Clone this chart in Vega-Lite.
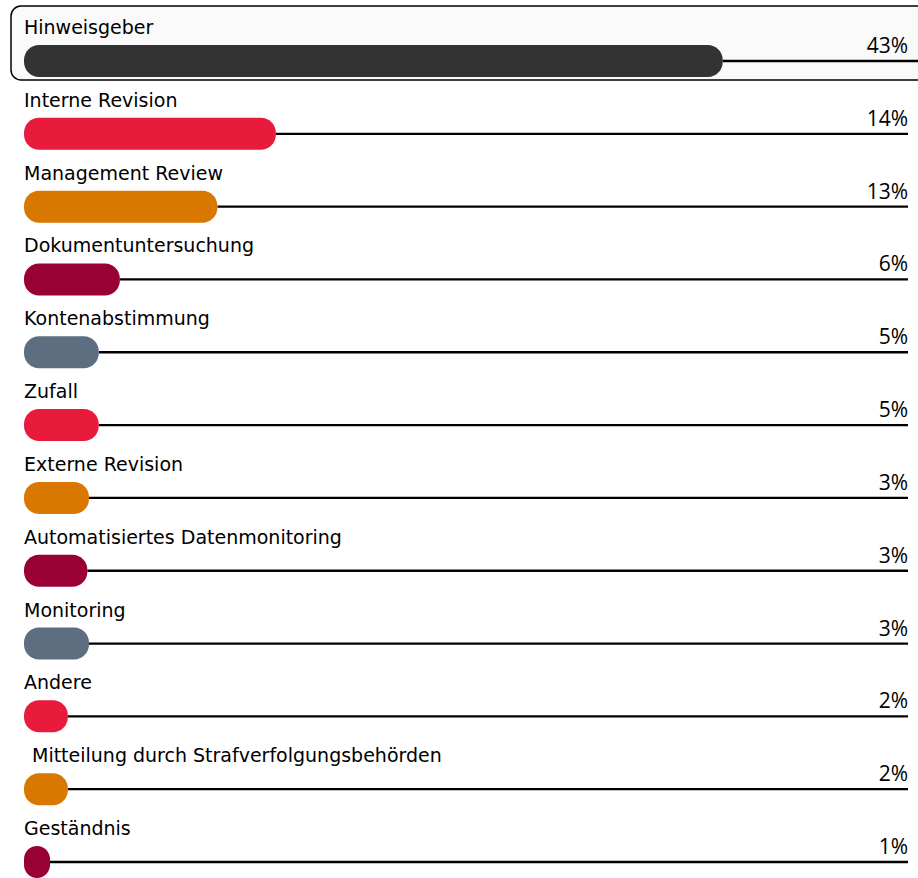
{
  "$schema": "https://vega.github.io/schema/vega-lite/v6.json",
  "width": 918,
  "height": 878,
  "autosize": {"type": "none"},
  "padding": 0,
  "background": "white",
  "config": {"view": {"stroke": null}},
  "data": {
    "values": [
      {"cat": "Hinweisgeber", "share": 43.0, "label": "43%", "highlight": true},
      {"cat": "Interne Revision", "share": 15.5, "label": "14%", "highlight": false},
      {"cat": "Management Review", "share": 11.9, "label": "13%", "highlight": false},
      {"cat": "Dokumentuntersuchung", "share": 5.9, "label": "6%", "highlight": false},
      {"cat": "Kontenabstimmung", "share": 4.6, "label": "5%", "highlight": false},
      {"cat": "Zufall", "share": 4.6, "label": "5%", "highlight": false},
      {"cat": "Externe Revision", "share": 4.0, "label": "3%", "highlight": false},
      {"cat": "Automatisiertes Datenmonitoring", "share": 3.9, "label": "3%", "highlight": false},
      {"cat": "Monitoring", "share": 4.0, "label": "3%", "highlight": false},
      {"cat": "Andere", "share": 2.7, "label": "2%", "highlight": false},
      {"cat": " Mitteilung durch Strafverfolgungsbehörden", "share": 2.7, "label": "2%", "highlight": false},
      {"cat": "Geständnis", "share": 1.6, "label": "1%", "highlight": false}
    ]
  },
  "resolve": {"scale": {"y": "independent"}},
  "layer": [
    {
      "transform": [{"filter": "datum.highlight"}],
      "mark": {"type": "rect", "cornerRadius": 10, "fill": "#fafafa", "stroke": "#000000", "strokeWidth": 1.5},
      "encoding": {
        "y": {"field": "cat", "type": "nominal", "scale": {"type": "band", "range": [6, 80], "paddingInner": 0, "paddingOuter": 0}, "axis": null},
        "x": {"datum": -0.8, "type": "quantitative", "scale": {"domain": [0, 54.4], "range": [24, 908], "nice": false, "zero": false}, "axis": null},
        "x2": {"datum": 100}
      }
    },
    {
      "encoding": {
        "y": {
          "field": "cat",
          "type": "nominal",
          "sort": null,
          "scale": {
            "type": "point",
            "range": [61, 862],
            "padding": 0,
            "domain": ["Hinweisgeber", "Interne Revision", "Management Review", "Dokumentuntersuchung", "Kontenabstimmung", "Zufall", "Externe Revision", "Automatisiertes Datenmonitoring", "Monitoring", "Andere", " Mitteilung durch Strafverfolgungsbehörden", "Geständnis"]
          },
          "axis": null
        }
      },
      "layer": [
        {
          "transform": [{"filter": "!datum.highlight"}],
          "mark": {"type": "rule", "color": "#000000", "strokeWidth": 2.3},
          "encoding": {
            "x": {"field": "share", "type": "quantitative"},
            "x2": {"datum": 54.4}
          }
        },
        {
          "transform": [{"filter": "datum.highlight"}],
          "mark": {"type": "rule", "color": "#000000", "strokeWidth": 2.3, "x2Offset": 12},
          "encoding": {
            "x": {"field": "share", "type": "quantitative"},
            "x2": {"datum": 54.4}
          }
        },
        {
          "mark": {"type": "bar", "height": 32, "cornerRadius": 15},
          "encoding": {
            "x": {"field": "share", "type": "quantitative"},
            "x2": {"datum": 0},
            "color": {
              "field": "cat",
              "type": "nominal",
              "sort": null,
              "legend": null,
              "scale": {
                "domain": ["Hinweisgeber", "Interne Revision", "Management Review", "Dokumentuntersuchung", "Kontenabstimmung", "Zufall", "Externe Revision", "Automatisiertes Datenmonitoring", "Monitoring", "Andere", " Mitteilung durch Strafverfolgungsbehörden", "Geständnis"],
                "range": ["#333333", "#e81b3d", "#d97800", "#990033", "#5c6e80", "#e81b3d", "#d97800", "#990033", "#5c6e80", "#e81b3d", "#d97800", "#990033"]
              }
            }
          }
        },
        {
          "transform": [{"filter": "indexof(datum.cat, ' ') !== 0"}],
          "mark": {"type": "text", "align": "left", "baseline": "alphabetic", "dy": -27, "font": "DejaVu Sans", "fontSize": 19, "color": "#000000"},
          "encoding": {
            "x": {"datum": 0, "type": "quantitative"},
            "text": {"field": "cat"}
          }
        },
        {
          "transform": [{"filter": "indexof(datum.cat, ' ') === 0"}],
          "mark": {"type": "text", "align": "left", "baseline": "alphabetic", "dy": -27, "dx": 8, "font": "DejaVu Sans", "fontSize": 19, "color": "#000000"},
          "encoding": {
            "x": {"datum": 0, "type": "quantitative"},
            "text": {"field": "cat"}
          }
        },
        {
          "mark": {"type": "text", "align": "right", "baseline": "alphabetic", "dy": -8, "font": "Open Sans", "fontSize": 21, "color": "#000000"},
          "encoding": {
            "x": {"datum": 54.4, "type": "quantitative"},
            "text": {"field": "label"}
          }
        }
      ]
    }
  ]
}
